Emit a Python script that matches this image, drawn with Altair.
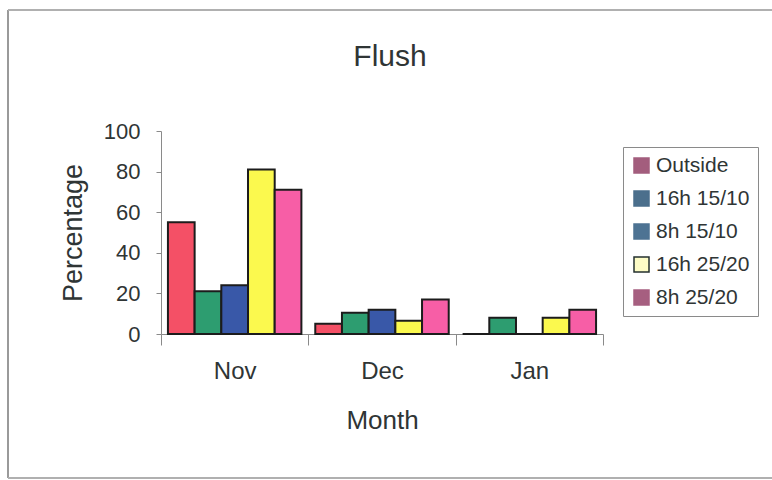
import altair as alt
import pandas as pd

# Flush percentages by month and treatment
months = ["Nov", "Dec", "Jan"]
series = ["Outside", "16h 15/10", "8h 15/10", "16h 25/20", "8h 25/20"]
outside = [55, 5, 0]
h16_15_10 = [21, 10.5, 8]
h8_15_10 = [24, 12, 0]
h16_25_20 = [81, 6.5, 8]
h8_25_20 = [71, 17, 12]

bar_colors = ["#f45066", "#2d9d70", "#3958a8", "#fbf94e", "#f75ea6"]
legend_fill = ["#a35d7d", "#4b6f8c", "#4d7393", "#fdfcc6", "#a65f80"]
legend_stroke = ["#a35d7d", "#4b6f8c", "#4d7393", "#25302f", "#a65f80"]

values_by_series = [outside, h16_15_10, h8_15_10, h16_25_20, h8_25_20]
rows = []
for s, c, vals in zip(series, bar_colors, values_by_series):
    for m, v in zip(months, vals):
        rows.append({"month": m, "series": s, "bar_color": c, "value": v})
df = pd.DataFrame(rows)

FONT = "Liberation Sans"
TEXT = "#2f3535"

bars = alt.Chart(df).mark_bar(stroke="#1c1c1c", strokeWidth=2).encode(
    x=alt.X(
        "month:N",
        sort=months,
        scale=alt.Scale(paddingInner=0, paddingOuter=0),
        axis=alt.Axis(
            title="Month",
            labelAngle=0,
            tickBand="extent",
            tickSize=11,
            labelPadding=14,
            titlePadding=24,
            labelFontSize=24,
            titleFontSize=26,
            titleFontWeight="normal",
            domainColor="#8a8a8a",
            tickColor="#8a8a8a",
            labelColor=TEXT,
            titleColor=TEXT,
        ),
    ),
    xOffset=alt.XOffset(
        "series:N",
        sort=series,
        scale=alt.Scale(paddingInner=0, paddingOuter=0.26),
    ),
    y=alt.Y(
        "value:Q",
        scale=alt.Scale(domain=[0, 100], nice=False),
        axis=alt.Axis(
            title="Percentage",
            values=[0, 20, 40, 60, 80, 100],
            grid=False,
            tickSize=5,
            labelPadding=16,
            titlePadding=16,
            labelFontSize=22,
            titleFontSize=27,
            titleFontWeight="normal",
            domainColor="#8a8a8a",
            tickColor="#8a8a8a",
            labelColor=TEXT,
            titleColor=TEXT,
        ),
    ),
    fill=alt.Fill("bar_color:N", scale=None),
)

legend_cfg = dict(
    title=None,
    orient="none",
    legendX=462,
    legendY=16,
    symbolType="square",
    symbolSize=225,
    symbolStrokeWidth=1.5,
    symbolOpacity=1,
    labelFontSize=21,
    labelFont=FONT,
    labelColor=TEXT,
    labelOffset=4,
    rowPadding=11,
    padding=8,
    strokeColor="#8a8a8a",
    fillColor="white",
)

# Legend entries come from their own colour scales
legend_df = pd.DataFrame({"series": series})
legend_layer = (
    alt.Chart(legend_df)
    .transform_filter("false")
    .mark_square(filled=True, opacity=1)
    .encode(
        color=alt.Color(
            "series:N",
            sort=series,
            scale=alt.Scale(domain=series, range=legend_fill),
            legend=alt.Legend(**legend_cfg),
        ),
        stroke=alt.Stroke(
            "series:N",
            sort=series,
            scale=alt.Scale(domain=series, range=legend_stroke),
            legend=alt.Legend(**legend_cfg),
        ),
    )
)

# Outer frame of the figure
frame_left = alt.Chart(legend_df).mark_rule(color="#9a9a9a", strokeWidth=1.5).encode(
    x=alt.value(-153), y=alt.value(-121), y2=alt.value(347)
)
frame_top = alt.Chart(legend_df).mark_rule(color="#b0b0b0", strokeWidth=1.5).encode(
    x=alt.value(-153), x2=alt.value(611), y=alt.value(-121)
)
frame_bottom = alt.Chart(legend_df).mark_rule(color="#b0b0b0", strokeWidth=1.5).encode(
    x=alt.value(-153), x2=alt.value(611), y=alt.value(347)
)

chart = (
    alt.layer(frame_left, frame_top, frame_bottom, bars, legend_layer)
    .properties(
        width=442,
        height=203,
        autosize=alt.AutoSizeParams(type="none"),
        padding={"left": 161, "top": 131, "right": 169, "bottom": 146},
        title=alt.Title(
            "Flush",
            fontSize=30,
            fontWeight="normal",
            font=FONT,
            color=TEXT,
            anchor="middle",
            frame="group",
            offset=-63,
            dx=8,
        ),
        background="white",
    )
    .configure_view(stroke=None)
    .configure_axis(labelFont=FONT, titleFont=FONT)
)

chart.save("out.html", embed_options={"renderer": "svg", "actions": False})
